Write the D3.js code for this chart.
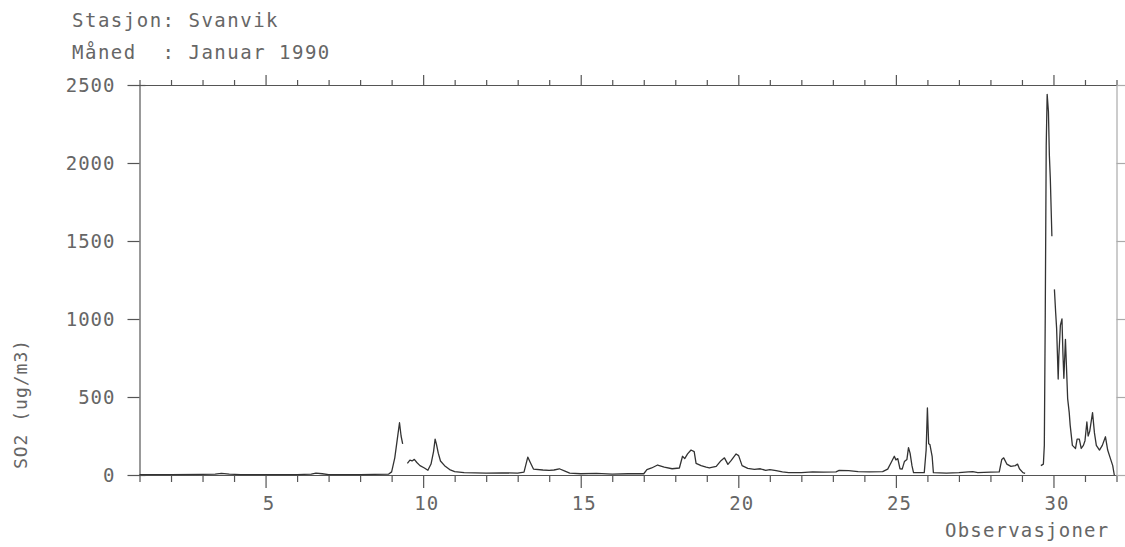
<!DOCTYPE html>
<html>
<head>
<meta charset="utf-8">
<script src="https://cdn.jsdelivr.net/npm/d3@7"></script>
<style>
  body { margin: 0; background: #fff; }
  svg text { font-family: "DejaVu Sans Mono", monospace; fill: #666; white-space: pre; }
</style>
</head>
<body>
<svg id="canvas" width="1125" height="547"></svg>
<script>
let obsDay = [
  1.0, 2.0, 3.0, 3.4, 3.6, 3.85, 4.2, 5.0, 6.0, 6.45, 6.6, 6.8, 7.0, 8.0, 8.9,
  9.0, 9.1, 9.18, 9.25, 9.3, 9.35, 9.42,
  9.5, 9.58, 9.65, 9.72, 9.8, 9.9, 10.04, 10.15, 10.25, 10.33, 10.38, 10.42, 10.48, 10.55, 10.68, 10.84,
  11.0, 11.3, 12.0, 12.5, 13.0, 13.2, 13.32, 13.4, 13.5, 13.8, 14.0, 14.15, 14.32, 14.5, 14.65,
  15.0, 15.5, 16.0, 16.5, 17.0, 17.1, 17.25, 17.44, 17.65, 17.9, 18.13, 18.23, 18.3, 18.39, 18.5,
  18.6, 18.66, 18.82, 18.98, 19.08, 19.3, 19.45, 19.56, 19.67, 19.77, 19.93, 20.01, 20.12, 20.3,
  20.51, 20.7, 20.87, 21.0, 21.2, 21.4, 21.6, 22.0, 22.36, 22.7, 23.1, 23.2, 23.5, 23.8, 24.16,
  24.58, 24.74, 24.85, 24.95, 25.0, 25.06, 25.13, 25.2, 25.27, 25.35, 25.4, 25.45, 25.51, 25.56,
  25.9, 25.96, 26.0, 26.04, 26.08, 26.15, 26.19, 26.6, 27.0, 27.3, 27.44, 27.6, 28.0, 28.28,
  28.36, 28.42, 28.52, 28.65, 28.79, 28.86, 28.92, 29.03, 29.1, 29.3,
  29.6, 29.68, 29.71, 29.74, 29.77, 29.8, 29.84, 29.87, 29.9, 29.95, 29.99,
  30.03, 30.07, 30.1, 30.15, 30.17, 30.22, 30.27, 30.3, 30.33, 30.38, 30.45, 30.5, 30.53, 30.6,
  30.7, 30.75, 30.82, 30.88, 30.95, 31.0, 31.06, 31.1, 31.15, 31.24, 31.3, 31.36, 31.46, 31.55,
  31.65, 31.72, 31.8, 31.88, 31.93
]
let so2 = [
  3, 3, 4, 6, 10, 6, 3, 2, 3, 5, 12, 8, 3, 3, 5,
  20, 110, 230, 335, 250, 200, null,
  75, 95, 90, 100, 80, 60, 45, 30, 70, 150, 230, 200, 140, 90, 60, 35,
  22, 15, 12, 14, 12, 18, 115, 80, 38, 32, 30, 32, 40, 25, 12,
  8, 10, 6, 8, 8, 35, 45, 64, 50, 40, 45, 120, 105, 135, 160,
  150, 75, 60, 50, 45, 55, 92, 110, 68, 92, 135, 124, 60, 43,
  36, 40, 30, 35, 28, 20, 15, 15, 20, 18, 20, 30, 28, 22, 20,
  22, 38, 80, 120, 97, 105, 40, 38, 86, 100, 175, 140, 60, 15,
  15, 160, 430, 200, 195, 120, 15, 12, 15, 20, 22, 15, 18, 20,
  100, 110, 70, 55, 60, 70, 40, 15, 10, null,
  60, 70, 190, 1040, 2110, 2440, 2330, 2050, 1900, 1530, null,
  1190, 1040, 940, 615, 760, 960, 1000, 780, 620, 870, 490, 400, 320, 190,
  170, 230, 230, 170, 190, 220, 340, 250, 280, 400, 270, 190, 160, 190,
  245, 160, 110, 60, 0
]
let yTicks = [0, 500, 1000, 1500, 2000, 2500]
let dayTicks = d3.range(1, 33)
let dayLabels = [5, 10, 15, 20, 25, 30]

let svg = d3.select('#canvas')

let x = d3.scaleLinear().domain([1, 32]).range([139.5, 1116.5])
let y = d3.scaleLinear().domain([0, 2500]).range([475, 85])

let ink = '#555'

// bottom axis
let gBottom = svg.append('g')
  .attr('transform', 'translate(0,' + y(0) + ')')
  .call(d3.axisBottom(x).tickValues(dayTicks).tickSize(7).tickSizeOuter(0)
    .tickFormat(d => dayLabels.includes(d) ? d : ''))
gBottom.selectAll('.tick line').attr('y2', d => dayLabels.includes(d) ? 13 : 7)
gBottom.selectAll('.tick text')
  .attr('y', 22).attr('dy', '0.71em').attr('dx', 3)
  .style('font-size', '19px').style('letter-spacing', '1px')

// top axis
let gTop = svg.append('g')
  .attr('transform', 'translate(0,' + y(2500) + ')')
  .call(d3.axisTop(x).tickValues(dayTicks).tickSize(5).tickSizeOuter(0).tickFormat(''))
gTop.selectAll('.tick line').attr('y2', d => dayLabels.includes(d) ? -10 : -5)

// left axis
let gLeft = svg.append('g')
  .attr('transform', 'translate(' + x(1) + ',0)')
  .call(d3.axisLeft(y).tickValues(yTicks).tickSize(12).tickSizeOuter(0).tickPadding(12)
    .tickFormat(d3.format('d')))
gLeft.selectAll('.tick line').attr('x2', -12).attr('x1', d => (d === 0 || d === 2500) ? 6 : 0)
gLeft.selectAll('.tick text').style('font-size', '19px').style('letter-spacing', '1px')

// right axis
let gRight = svg.append('g')
  .attr('transform', 'translate(' + x(32) + ',0)')
  .call(d3.axisRight(y).tickValues(yTicks).tickSize(10).tickSizeOuter(0).tickFormat(''))

svg.selectAll('.domain').attr('stroke', ink).attr('stroke-width', 1.2)
svg.selectAll('.tick line').attr('stroke', ink).attr('stroke-width', 1.2)
gRight.select('.domain').attr('stroke', '#999').attr('stroke-width', 1)
gRight.selectAll('.tick line').attr('stroke', '#aaa')
svg.selectAll('.tick text').attr('fill', '#666')

// SO2 trace
let points = obsDay.map((d, i) => ({day: d, value: so2[i]}))
let line = d3.line()
  .defined(p => p.value !== null)
  .x(p => x(p.day))
  .y(p => y(p.value))

svg.append('path')
  .datum(points)
  .attr('d', line)
  .attr('fill', 'none')
  .attr('stroke', '#333')
  .attr('stroke-width', 1.3)
  .attr('stroke-linejoin', 'round')

// header texts
svg.append('text').attr('x', 72).attr('y', 27)
  .style('font-size', '19px').style('letter-spacing', '1.5px')
  .text('Stasjon: Svanvik')
svg.append('text').attr('x', 72).attr('y', 59)
  .style('font-size', '19px').style('letter-spacing', '1.5px')
  .text('Måned  : Januar 1990')

// axis titles
svg.append('text')
  .attr('transform', 'translate(27,404) rotate(-90)')
  .attr('text-anchor', 'middle')
  .style('font-size', '18px').style('letter-spacing', '1px')
  .text('SO2 (ug/m3)')
svg.append('text').attr('x', 945).attr('y', 537)
  .style('font-size', '19px').style('letter-spacing', '1.2px')
  .text('Observasjoner')
</script>
</body>
</html>
